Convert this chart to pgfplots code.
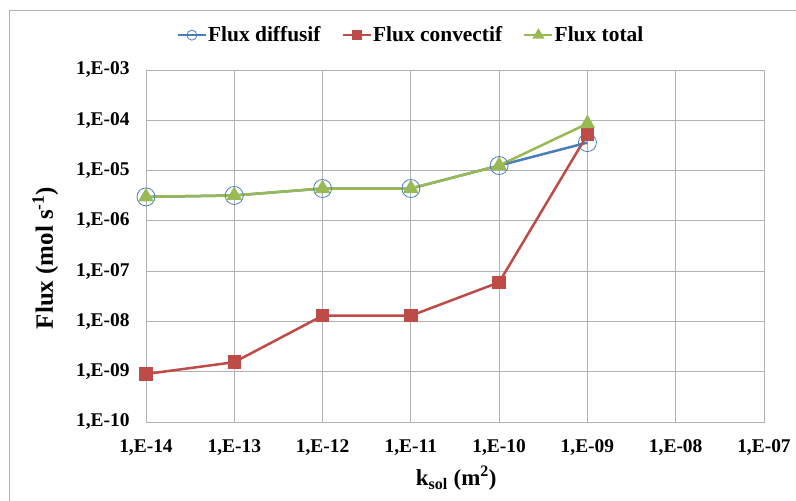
\documentclass[border=0pt]{standalone}
\usepackage{pgfplots}
\pgfplotsset{compat=1.18}
\usepackage{fontspec}
\setmainfont{Liberation Serif}
\definecolor{cblue}{HTML}{4A7EBB}
\definecolor{cred}{HTML}{BE4B48}
\definecolor{cgreen}{HTML}{98B954}
\definecolor{cgrid}{RGB}{178,178,178}
\begin{document}
\begin{tikzpicture}
\useasboundingbox (0bp,0bp) rectangle (796bp,501bp);
\draw[cgrid, line width=1bp] (9bp,0bp) -- (9bp,490bp) -- (796bp,490bp);
\begin{axis}[
  at={(146bp,79bp)}, anchor=south west, scale only axis,
  width=618bp, height=352bp,
  xmode=log, ymode=log,
  xmin=1e-14, xmax=1e-7, ymin=1e-10, ymax=1e-3,
  xtick={1e-14,1e-13,1e-12,1e-11,1e-10,1e-9,1e-8,1e-7},
  xticklabels={{1,E-14},{1,E-13},{1,E-12},{1,E-11},{1,E-10},{1,E-09},{1,E-08},{1,E-07}},
  ytick={1e-10,1e-9,1e-8,1e-7,1e-6,1e-5,1e-4,1e-3},
  yticklabels={{1,E-10},{1,E-09},{1,E-08},{1,E-07},{1,E-06},{1,E-05},{1,E-04},{1,E-03}},
  minor tick num=0,
  grid=major,
  major grid style={cgrid, line width=0.9bp},
  axis line style={cgrid, line width=0.9bp},
  tick style={draw=none},
  every tick label/.append style={font=\fontsize{19.5}{21}\selectfont\bfseries},
  xticklabel style={yshift=-14bp},
  yticklabel style={xshift=-13bp},
  xlabel={k\textsubscript{sol} (m\textsuperscript{2})},
  ylabel={Flux (mol s\textsuperscript{-1})},
  xlabel style={font=\fontsize{23}{25}\selectfont\bfseries, at={(axis description cs:0.502,-0.159)}, anchor=center},
  ylabel style={font=\fontsize{25}{27}\selectfont\bfseries, at={(axis description cs:-0.163,0.466)}, anchor=center},
  legend style={at={(0.428,1.099)}, anchor=center, draw=none, fill=none,
    legend columns=3, font=\fontsize{21.5}{23}\selectfont\bfseries,
    nodes={inner xsep=1bp},
    /tikz/every even column/.append style={column sep=20bp}},
  legend image code/.code={\draw[mark repeat=2,mark phase=2] plot coordinates {(0bp,0bp)(14bp,0bp)(28bp,0bp)};},
]
\addplot[cblue, line width=2.5bp, mark=o, mark size=9bp,
  mark options={line width=0.8bp}, legend image post style={mark size=5bp}]
  coordinates {(1e-14,3.0e-6)(1e-13,3.2e-6)(1e-12,4.4e-6)(1e-11,4.4e-6)(1e-10,1.26e-5)(1e-9,3.6e-5)};
\addlegendentry{Flux diffusif}
\addplot[cred, line width=2.5bp, mark=square*, mark size=5.5bp,
  legend image post style={mark size=4bp}]
  coordinates {(1e-14,9.0e-10)(1e-13,1.55e-9)(1e-12,1.3e-8)(1e-11,1.3e-8)(1e-10,6.0e-8)(1e-9,5.2e-5)};
\addlegendentry{Flux convectif}
\addplot[cgreen, line width=2.5bp, mark=triangle*, mark size=6.5bp,
  legend image post style={mark size=4.5bp}]
  coordinates {(1e-14,3.0e-6)(1e-13,3.2e-6)(1e-12,4.4e-6)(1e-11,4.4e-6)(1e-10,1.26e-5)(1e-9,8.6e-5)};
\addlegendentry{Flux total}
\end{axis}
\end{tikzpicture}
\end{document}
